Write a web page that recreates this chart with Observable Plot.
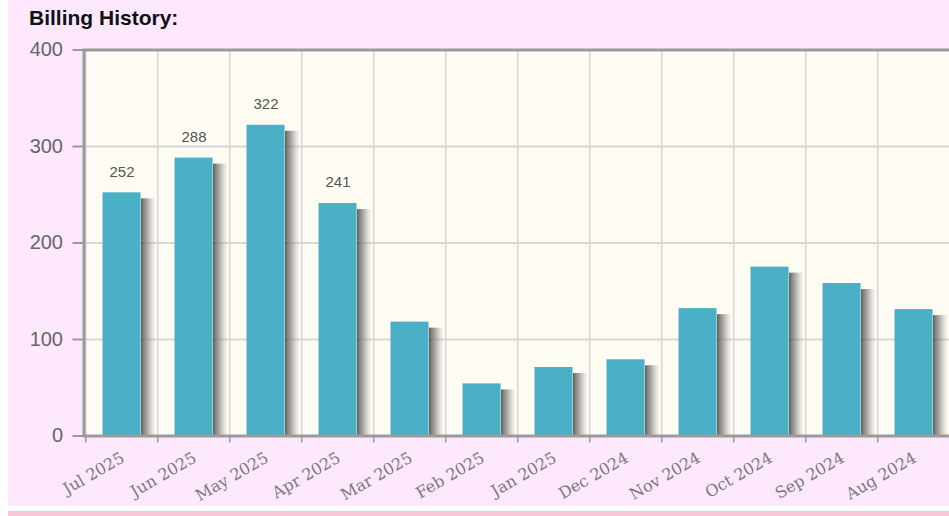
<!DOCTYPE html>
<html><head><meta charset="utf-8">
<script src="https://cdn.jsdelivr.net/npm/d3@7"></script>
<script src="https://cdn.jsdelivr.net/npm/@observablehq/plot@0.6"></script>
<style>
html,body{margin:0;padding:0;width:949px;height:516px;overflow:hidden;background:#fff;}
#bg{position:absolute;left:8px;top:0;width:941px;height:506px;background:#fde8fd;}
#stripe{position:absolute;left:8px;top:511px;width:941px;height:5px;background:#f9c6d6;}
#title{position:absolute;left:29px;top:7px;font-family:"Liberation Sans",Arial,sans-serif;font-weight:bold;font-size:21px;line-height:21px;color:#111;white-space:nowrap;}
#chart{position:absolute;left:0;top:0;width:953px;height:506px;overflow:hidden;}
</style></head><body>
<div id="bg"></div><div id="stripe"></div>
<div id="chart"></div>
<div id="title">Billing History:</div>
<script>
const months = ["Jul 2025","Jun 2025","May 2025","Apr 2025","Mar 2025","Feb 2025","Jan 2025","Dec 2024","Nov 2024","Oct 2024","Sep 2024","Aug 2024"];
const amounts = [252,288,322,241,118,54,71,79,132,175,158,131];
const yTicks = [0,100,200,300,400];
const gridValues = [100,200,300];
const labeledMonths = ["Jul 2025","Jun 2025","May 2025","Apr 2025"];

const data = months.map((m,i)=>({month:m, amount:amounts[i]}));
const W = 953, H = 506, ML = 83.5, MR = 0, MT = 49.5, MB = 70.5;
const bw = (W - ML - MR) / months.length;
const sans = "Liberation Sans, Arial, sans-serif";

const plot = Plot.plot({
  width: W, height: H,
  marginLeft: ML, marginRight: MR, marginTop: MT, marginBottom: MB,
  style: {background: "transparent", maxWidth: "none", overflow: "hidden"},
  x: {type: "band", domain: months, padding: 0, axis: null},
  y: {domain: [0, 400], axis: null},
  marks: [
    Plot.frame({fill: "#fffcf3", stroke: null}),
    Plot.gridY(gridValues, {stroke: "#d6d6d6", strokeWidth: 2, strokeOpacity: 1}),
    Plot.rect(months, {x: d => d, y1: 0, y2: 400, insetRight: bw - 2, dx: -1, fill: "#d6d6d6"}),
    Plot.barY(data, {x: "month", y: "amount", fill: "url(#barShadow)", insetLeft: 55, insetRight: bw - 71, insetTop: 6}),
    Plot.barY(data, {x: "month", y: "amount", fill: "#4ab0c6", insetLeft: 16.5, insetRight: bw - 55}),
    Plot.frame({stroke: "#9a9a9a", strokeWidth: 3}),
    Plot.rect(months, {x: d => d, y1: 0, y2: 0, insetBottom: -7, insetRight: bw - 2, dx: -1, fill: "#9a9a9a"}),
    Plot.text(data.filter(d => labeledMonths.includes(d.month)), {
      x: "month", y: "amount", text: d => String(d.amount),
      dy: -21, dx: -0.5, fontSize: 15, fontFamily: sans, fill: "#555"
    }),
    Plot.text(months, {
      x: d => d, frameAnchor: "bottom", dy: 25, dx: 3, rotate: -30, textAnchor: "end",
      fontFamily: "DejaVu Serif, serif", fontSize: 16, fill: "#7a7a7a"
    }),
    Plot.axisY({ticks: yTicks, tickSize: 11, tickPadding: 10, fontSize: 20, fontFamily: sans,
      fill: "#666", stroke: "#999", strokeWidth: 2, label: null})
  ]
});

const svg = d3.select(plot);
const defs = svg.insert("defs", ":first-child");
const g = defs.append("linearGradient").attr("id", "barShadow").attr("x1", "0").attr("x2", "1").attr("y1", "0").attr("y2", "0");
g.append("stop").attr("offset", "0").attr("stop-color", "#444").attr("stop-opacity", 0.85);
g.append("stop").attr("offset", "0.45").attr("stop-color", "#777").attr("stop-opacity", 0.55);
g.append("stop").attr("offset", "1").attr("stop-color", "#bbb").attr("stop-opacity", 0);

document.getElementById("chart").appendChild(plot);
</script>
</body></html>
